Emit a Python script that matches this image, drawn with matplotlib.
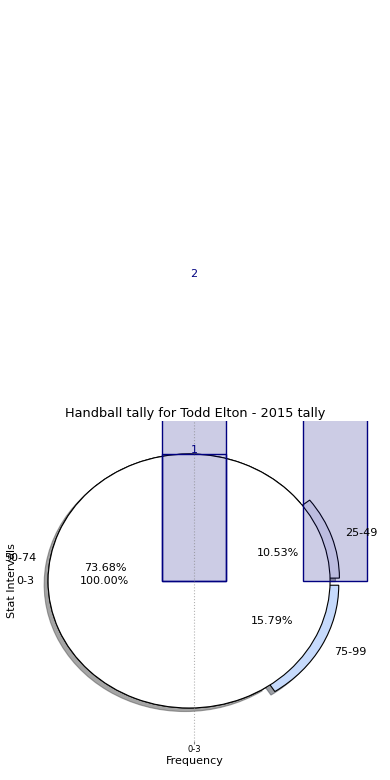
import matplotlib
matplotlib.use('Agg')
import matplotlib.pyplot as plt

title = "Handball tally for Todd Elton - 2015 tally"
pie_labels = ['25-49', '50-74', '75-99']
pie_counts = [2, 14, 3]
base_labels = ['0-3']
base_counts = [1]
bar_positions = [0, 0, 1]
bar_heights = [2.39, 1, 2.0]
bar_texts = ['2', '1', '']
bar_filled = [True, False, True]
tick_labels = ['0-3']

W, H = 390, 780
fig = plt.figure(figsize=(W / 100, H / 100), dpi=100)
left, right, top, bottom = 20, 370, 421, 741
ax = fig.add_axes([left / W, 1 - bottom / H, (right - left) / W, (bottom - top) / H])

center = (-0.035, 0)
wp = dict(edgecolor='black', linewidth=0.8)
tp = dict(fontsize=8)
ax.pie(pie_counts, labels=pie_labels, explode=[0.07, 0, 0.07],
       colors=['#ececf8', '#ffffff', '#c6dafc'], autopct='%1.2f%%',
       shadow=True, startangle=0, center=center, wedgeprops=wp, textprops=tp)
ax.pie(base_counts, labels=base_labels, colors=['white'], autopct='%1.2f%%',
       shadow=False, startangle=0, center=center, wedgeprops=wp, textprops=tp)

for x, h, t, f in zip(bar_positions, bar_heights, bar_texts, bar_filled):
    fc = (0, 0, 0.5, 0.2) if f else 'none'
    bc = ax.bar([x], [h], width=0.45, color=fc, edgecolor='navy', linewidth=1)
    if t:
        ax.bar_label(bc, labels=[t], color='navy', fontsize=8, padding=-1, annotation_clip=False)

ax.set_aspect('auto')
ax.set_xlim((left - 194) / 141, (right - 194) / 141)
ax.set_ylim((581 - bottom) / 127, (581 - top) / 127)
ax.set_xticks([0])
ax.set_xticklabels(tick_labels, fontsize=6)
ax.set_yticks([])
ax.tick_params(axis='x', length=2, pad=1, color='grey')
ax.grid(axis='x', linestyle=':', color='grey', alpha=0.6)
ax.set_xlabel('Frequency', fontsize=8, labelpad=1)
ax.set_ylabel('Stat Intervals', fontsize=8, labelpad=2)
ax.set_title(title, fontsize=9.3, pad=3)

fig.savefig('out.png', dpi=100)
